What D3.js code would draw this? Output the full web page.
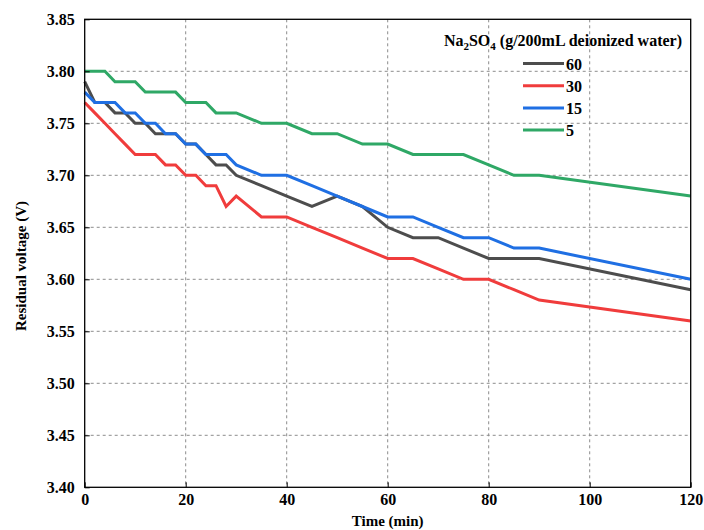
<!DOCTYPE html>
<html>
<head>
<meta charset="utf-8">
<script src="https://cdn.jsdelivr.net/npm/d3@7"></script>
<style>
    body { margin: 0; background: #fff; }
    svg { display: block; font-family: "Liberation Serif", "Times New Roman", serif; font-weight: bold; }
    .grid line { stroke: #8c8c8c; stroke-width: 1; stroke-dasharray: 3,3; }
    .axis path, .axis line { stroke: #000; }
    .axis text { font-size: 16px; font-weight: bold; fill: #000; font-family: "Liberation Serif", serif; }
</style>
</head>
<body>
<svg id="chart"></svg>
<script>
const times = [0, 2, 4, 6, 8, 10, 12, 14, 16, 18, 20, 22, 24, 26, 28, 30, 35, 40, 45, 50, 55, 60, 65, 70, 75, 80, 85, 90, 120]

const v60 = [3.79, 3.77, 3.77, 3.76, 3.76, 3.75, 3.75, 3.74, 3.74, 3.74, 3.73, 3.73, 3.72, 3.71, 3.71, 3.70,
    3.69, 3.68, 3.67, 3.68, 3.67, 3.65, 3.64, 3.64, 3.63, 3.62, 3.62, 3.62, 3.59]
const v30 = [3.77, 3.76, 3.75, 3.74, 3.73, 3.72, 3.72, 3.72, 3.71, 3.71, 3.70, 3.70, 3.69, 3.69, 3.67, 3.68,
    3.66, 3.66, 3.65, 3.64, 3.63, 3.62, 3.62, 3.61, 3.60, 3.60, 3.59, 3.58, 3.56]
const v15 = [3.78, 3.77, 3.77, 3.77, 3.76, 3.76, 3.75, 3.75, 3.74, 3.74, 3.73, 3.73, 3.72, 3.72, 3.72, 3.71,
    3.70, 3.70, 3.69, 3.68, 3.67, 3.66, 3.66, 3.65, 3.64, 3.64, 3.63, 3.63, 3.60]
const v5 = [3.80, 3.80, 3.80, 3.79, 3.79, 3.79, 3.78, 3.78, 3.78, 3.78, 3.77, 3.77, 3.77, 3.76, 3.76, 3.76,
    3.75, 3.75, 3.74, 3.74, 3.73, 3.73, 3.72, 3.72, 3.72, 3.71, 3.70, 3.70, 3.68]

const seriesNames = ['60', '30', '15', '5']
const seriesColors = ['#4d4d4d', '#f03c3c', '#1f6fe3', '#2fa866']
const xTicks = [0, 20, 40, 60, 80, 100, 120]
const yTicks = [3.40, 3.45, 3.50, 3.55, 3.60, 3.65, 3.70, 3.75, 3.80, 3.85]

const series = [v60, v30, v15, v5].map((vals, i) => ({
    name: seriesNames[i],
    color: seriesColors[i],
    points: times.map((t, j) => [t, vals[j]]),
}))

const WIDTH = 704
const HEIGHT = 530
const PAD = { left: 84.7, right: 690.7, top: 19.3, bottom: 487.3 }

const svg = d3.select('#chart')
    .attr('width', WIDTH)
    .attr('height', HEIGHT)
    .attr('viewBox', [0, 0, WIDTH, HEIGHT].join(' '))

const x = d3.scaleLinear().domain([0, 120]).range([PAD.left, PAD.right])
const y = d3.scaleLinear().domain([3.40, 3.85]).range([PAD.bottom, PAD.top])

// Grid
const grid = svg.append('g').attr('class', 'grid')
grid.selectAll('line.gx')
    .data(xTicks.filter(t => t > 0 && t < 120))
    .join('line')
    .attr('class', 'gx')
    .attr('x1', d => x(d)).attr('x2', d => x(d))
    .attr('y1', PAD.top).attr('y2', PAD.bottom)
grid.selectAll('line.gy')
    .data(yTicks.filter(t => t > 3.40 && t < 3.85))
    .join('line')
    .attr('class', 'gy')
    .attr('x1', PAD.left).attr('x2', PAD.right)
    .attr('y1', d => y(d)).attr('y2', d => y(d))

// Lines
const line = d3.line()
    .x(d => x(d[0]))
    .y(d => y(d[1]))

svg.append('g')
    .selectAll('path')
    .data(series)
    .join('path')
    .attr('fill', 'none')
    .attr('stroke', d => d.color)
    .attr('stroke-width', 3)
    .attr('d', d => line(d.points))

// Frame
svg.append('rect')
    .attr('x', PAD.left).attr('y', PAD.top)
    .attr('width', PAD.right - PAD.left).attr('height', PAD.bottom - PAD.top)
    .attr('fill', 'none')
    .attr('stroke', '#000')
    .attr('stroke-width', 1.3)

// Axes (ticks inward)
const xAxis = d3.axisBottom(x).tickValues(xTicks).tickFormat(d3.format('d'))
    .tickSizeInner(-5).tickSizeOuter(0).tickPadding(6)
const yAxis = d3.axisLeft(y).tickValues(yTicks).tickFormat(d3.format('.2f'))
    .tickSizeInner(-5).tickSizeOuter(0).tickPadding(10)

svg.append('g')
    .attr('class', 'axis')
    .attr('transform', `translate(0,${PAD.bottom})`)
    .call(xAxis)
    .call(g => g.select('.domain').remove())

svg.append('g')
    .attr('class', 'axis')
    .attr('transform', `translate(${PAD.left},0)`)
    .call(yAxis)
    .call(g => g.select('.domain').remove())

// Axis titles
svg.append('text')
    .attr('x', (PAD.left + PAD.right) / 2)
    .attr('y', 526)
    .attr('text-anchor', 'middle')
    .attr('font-size', 15)
    .text('Time (min)')

svg.append('text')
    .attr('transform', 'translate(26,266) rotate(-90)')
    .attr('text-anchor', 'middle')
    .attr('font-size', 15)
    .text('Residual voltage (V)')

// Legend
const legendTitle = svg.append('text')
    .attr('x', 682)
    .attr('y', 46)
    .attr('text-anchor', 'end')
    .attr('font-size', 16)
legendTitle.append('tspan').text('Na')
legendTitle.append('tspan').attr('font-size', 11).attr('dy', 4).text('2')
legendTitle.append('tspan').attr('dy', -4).text('SO')
legendTitle.append('tspan').attr('font-size', 11).attr('dy', 4).text('4')
legendTitle.append('tspan').attr('dy', -4).text(' (g/200mL deionized water)')

const legend = svg.append('g')
    .selectAll('g')
    .data(series)
    .join('g')
    .attr('transform', (d, i) => `translate(0,${63.5 + i * 22.2})`)

legend.append('line')
    .attr('x1', 523).attr('x2', 564)
    .attr('stroke', d => d.color)
    .attr('stroke-width', 3)

legend.append('text')
    .attr('x', 566)
    .attr('y', 6)
    .attr('font-size', 16)
    .text(d => d.name)
</script>
</body>
</html>
